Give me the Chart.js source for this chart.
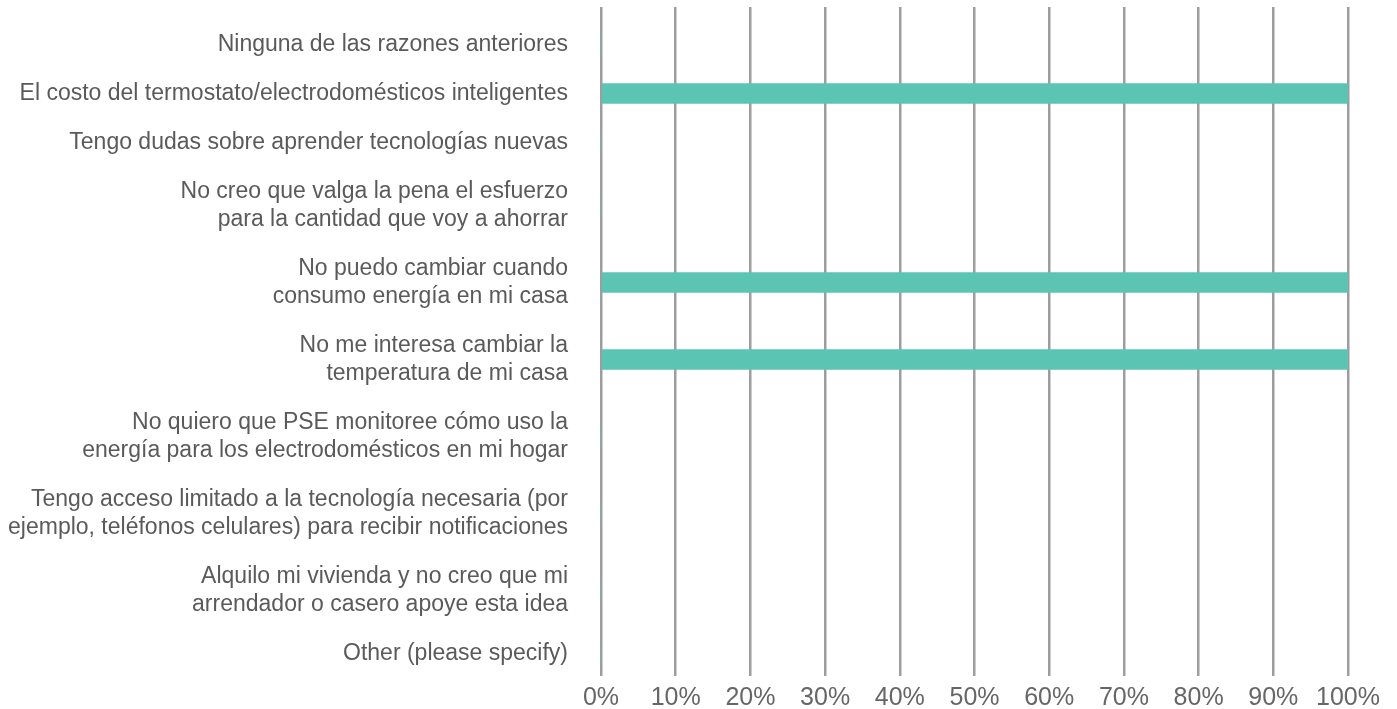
<!DOCTYPE html>
<html>
<head>
<meta charset="utf-8">
<script src="https://cdn.jsdelivr.net/npm/chart.js@4/dist/chart.umd.min.js"></script>
<style>
	html, body { margin: 0; padding: 0; background: #fff; }
	#wrap { width: 1397px; height: 709px; }
</style>
</head>
<body>
<div id="wrap"><canvas id="reasonsChart"></canvas></div>
<script>
// Data
const categories = [
	['Ninguna de las razones anteriores'],
	['El costo del termostato/electrodomésticos inteligentes'],
	['Tengo dudas sobre aprender tecnologías nuevas'],
	['No creo que valga la pena el esfuerzo', 'para la cantidad que voy a ahorrar'],
	['No puedo cambiar cuando', 'consumo energía en mi casa'],
	['No me interesa cambiar la', 'temperatura de mi casa'],
	['No quiero que PSE monitoree cómo uso la', 'energía para los electrodomésticos en mi hogar'],
	['Tengo acceso limitado a la tecnología necesaria (por', 'ejemplo, teléfonos celulares) para recibir notificaciones'],
	['Alquilo mi vivienda y no creo que mi', 'arrendador o casero apoye esta idea'],
	['Other (please specify)']
];
const percentages = [0, 100, 0, 0, 100, 100, 0, 0, 0, 0];
const xTicks = [0, 10, 20, 30, 40, 50, 60, 70, 80, 90, 100];

// Layout: rows with two lines of text get more room than single-line ones
const ONE_LINE_ROW = 49;
const TWO_LINE_ROW = 77;
const PLOT_LEFT = 601;

let centers = [];
let cursor = 0;
categories.forEach(lines => {
	let h = lines.length > 1 ? TWO_LINE_ROW : ONE_LINE_ROW;
	centers.push(cursor + h / 2);
	cursor += h;
});

const points = percentages.map((v, i) => ({ x: v, y: centers[i] }));

let context = document.getElementById('reasonsChart');
let chart = new Chart(context, {
	type: 'bar',
	data: {
		datasets: [{
			data: points,
			backgroundColor: '#5bc4b3',
			borderWidth: 0,
			barThickness: 20,
		}]
	},
	options: {
		indexAxis: 'y',
		responsive: true,
		maintainAspectRatio: false,
		animation: false,
		layout: { padding: { top: 7, right: 49, left: 0, bottom: 0 } },
		plugins: {
			legend: { display: false },
			tooltip: { enabled: false },
		},
		scales: {
			x: {
				type: 'linear',
				min: 0,
				max: 100,
				afterBuildTicks: axis => { axis.ticks = xTicks.map(v => ({ value: v })); },
				afterFit: axis => { axis.height = 33; },
				grid: { color: '#9d9d9f', lineWidth: 2.5, drawTicks: false },
				border: { display: false },
				ticks: {
					padding: 7,
					color: '#666',
					font: { family: 'Liberation Sans', size: 25 },
					callback: v => v + '%',
				},
			},
			y: {
				type: 'linear',
				reverse: true,
				offset: false,
				min: -13,
				max: 656,
				afterBuildTicks: axis => { axis.ticks = centers.map(v => ({ value: v })); },
				afterFit: axis => {
					axis.width = PLOT_LEFT;
					axis.paddingTop = 0;
					axis.paddingBottom = 0;
				},
				grid: { display: false, drawTicks: false },
				border: { display: false },
				ticks: {
					autoSkip: false,
					padding: 33,
					color: '#5a5a5a',
					font: { family: 'Liberation Sans', size: 23, lineHeight: 1.22 },
					callback: (v, idx) => categories[idx],
				},
			},
		},
	},
});
</script>
</body>
</html>
